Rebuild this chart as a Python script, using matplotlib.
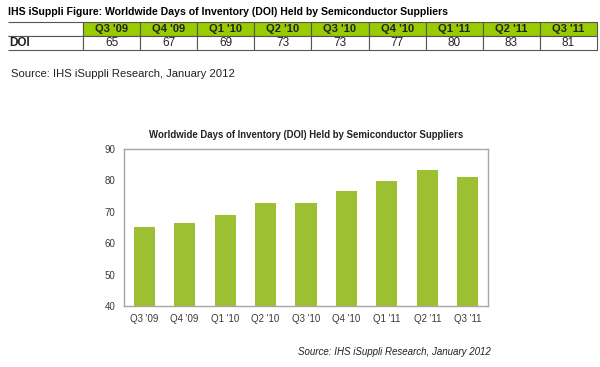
"""
Days of inventory held by semiconductor suppliers
Table on top and bar chart below
"""

import matplotlib
matplotlib.use("Agg")
import matplotlib.pyplot as plt

# Data
trimestres = ["Q3 '09", "Q4 '09", "Q1 '10", "Q2 '10", "Q3 '10", "Q4 '10", "Q1 '11", "Q2 '11", "Q3 '11"]
doi_tabla = [65, 67, 69, 73, 73, 77, 80, 83, 81]
doi_barras = [65.3, 66.5, 69.0, 72.7, 72.7, 76.6, 79.7, 83.3, 81.1]
yticks = [40, 50, 60, 70, 80, 90]

FUENTE = ['Liberation Sans', 'DejaVu Sans']
ANGOSTA = ['Liberation Sans Narrow', 'Liberation Sans', 'DejaVu Sans']
VERDE_TABLA = '#99CC00'
VERDE_BARRA = '#9DC032'
GRIS_TEXTO = '#3A3A3A'


def dibujar():
    W, H = 600, 367
    fig = plt.figure(figsize=(W / 100, H / 100), dpi=100)
    fig.patch.set_facecolor('white')

    # Title above the table
    fig.text(8 / W, 1 - 12 / H, "IHS iSuppli Figure: Worldwide Days of Inventory (DOI) Held by Semiconductor Suppliers",
             family=ANGOSTA, fontweight='bold', fontsize=7.6, va='center', ha='left', color='black')

    # Table
    x0, x1, y_top, y_bot = 8, 597, 22, 50
    ax_t = fig.add_axes([x0 / W, 1 - y_bot / H, (x1 - x0) / W, (y_bot - y_top) / H])
    ax_t.axis('off')
    celdas = [[''] + trimestres, ['DOI'] + [str(v) for v in doi_tabla]]
    ancho_label = (83 - x0) / (x1 - x0)
    ancho_col = (1 - ancho_label) / len(trimestres)
    tabla = ax_t.table(cellText=celdas, bbox=[0, 0, 1, 1], cellLoc='center',
                       colWidths=[ancho_label] + [ancho_col] * len(trimestres))
    tabla.auto_set_font_size(False)
    for (r, c), cell in tabla.get_celld().items():
        cell.set_edgecolor('#555555')
        cell.set_linewidth(0.8)
        txt = cell.get_text()
        txt.set_fontfamily(ANGOSTA)
        txt.set_fontsize(8.5)
        txt.set_color('#222222')
        if c == 0:
            cell.visible_edges = 'BTR'
            txt.set_ha('left')
            cell.PAD = 0.01
            txt.set_fontweight('bold')
        if r == 0 and c > 0:
            cell.set_facecolor(VERDE_TABLA)
            txt.set_fontweight('bold')
            txt.set_fontsize(8)

    # Source line under the table
    fig.text(11 / W, 1 - 74 / H, "Source: IHS iSuppli Research, January 2012",
             family=FUENTE, fontsize=8.1, va='center', ha='left', color='#222222')

    # Bar chart
    ax = fig.add_axes([124 / W, 1 - 306 / H, (488 - 124) / W, (306 - 149) / H])
    x = range(len(trimestres))
    ax.bar(x, [v - 40 for v in doi_barras], bottom=40, width=0.52, color=VERDE_BARRA)
    ax.set_xlim(-0.5, len(trimestres) - 0.5)
    ax.set_ylim(40, 90)
    ax.set_yticks(yticks)
    ax.set_xticks(list(x))
    ax.set_xticklabels(trimestres)
    for sp in ax.spines.values():
        sp.set_color('#A6A6A6')
        sp.set_linewidth(1.0)
    ax.tick_params(length=0, pad=6, labelsize=7, labelcolor=GRIS_TEXTO)
    for lab in ax.get_xticklabels() + ax.get_yticklabels():
        lab.set_fontfamily(FUENTE)

    ax.set_title("Worldwide Days of Inventory (DOI) Held by Semiconductor Suppliers",
                 family=FUENTE, fontweight='bold', fontsize=6.9, color='#222222', pad=8)

    fig.text(491 / W, 1 - 352 / H, "Source: IHS iSuppli Research, January 2012",
             family=FUENTE, fontstyle='italic', fontsize=7.0, va='center', ha='right', color='#222222')

    fig.savefig('out.png', dpi=100, facecolor='white')


if __name__ == "__main__":
    dibujar()
